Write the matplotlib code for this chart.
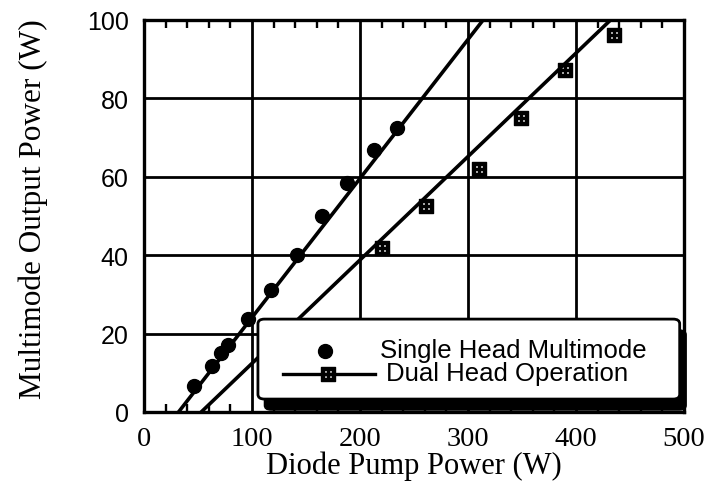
import matplotlib
matplotlib.use('Agg')
import matplotlib.pyplot as plt
from matplotlib.path import Path
from matplotlib.patches import FancyBboxPatch
from matplotlib.ticker import MultipleLocator

# Datos
single_x = [46, 63, 71, 78, 96, 118, 142, 165, 188, 213, 234]
single_y = [6.6, 11.7, 15.1, 17.2, 23.7, 31.1, 40, 50, 58.4, 66.8, 72.4]
dual_x = [220, 261, 310, 349, 390, 435]
dual_y = [41.8, 52.6, 62, 75, 87.2, 96.2]

# Rectas de ajuste (x en y=0 y en y=100)
single_fit_x = [32, 314]
single_fit_y = [0, 100]
dual_fit_x = [53, 432]
dual_fit_y = [0, 100]

x_ticks = [0, 100, 200, 300, 400, 500]
y_ticks = [0, 20, 40, 60, 80, 100]
x_label = 'Diode Pump Power (W)'
y_label = 'Multimode Output Power (W)'
label_single = 'Single Head Multimode'
label_dual = 'Dual Head Operation'

SERIF = 'Liberation Serif'
SANS = 'Liberation Sans'

# marcador cuadrado con cuatro huecos
outer = [(-1, -1), (1, -1), (1, 1), (-1, 1), (-1, -1)]
verts = list(outer)
codes = [Path.MOVETO, Path.LINETO, Path.LINETO, Path.LINETO, Path.CLOSEPOLY]
h = 0.2
for cx in (-0.42, 0.42):
    for cy in (-0.42, 0.42):
        verts += [(cx - h, cy - h), (cx - h, cy + h), (cx + h, cy + h),
                  (cx + h, cy - h), (cx - h, cy - h)]
        codes += [Path.MOVETO, Path.LINETO, Path.LINETO, Path.LINETO, Path.CLOSEPOLY]
square_marker = Path(verts, codes)

fig = plt.figure(figsize=(7.11, 4.89), dpi=100)
ax = fig.add_axes([144 / 711, (489 - 413) / 489, 540 / 711, 392 / 489])

ax.set_xlim(0, 500)
ax.set_ylim(0, 100)
ax.set_xticks(x_ticks)
ax.set_yticks(y_ticks)
ax.xaxis.set_minor_locator(MultipleLocator(20))

ax.grid(True, which='major', color='black', linewidth=2.0, zorder=1)
ax.set_axisbelow(True)
for s in ax.spines.values():
    s.set_linewidth(2.4)
    s.set_zorder(10)

ax.tick_params(which='major', length=0, pad=11)
ax.tick_params(axis='x', which='major', pad=10)
ax.tick_params(axis='x', which='minor', direction='in', top=True, bottom=True,
               length=6, width=1.7)
ax.set_xticklabels([str(t) for t in x_ticks], fontfamily=SERIF, fontsize=20.5)
ax.set_yticklabels([str(t) for t in y_ticks], fontfamily=SANS, fontsize=18)

ax.set_xlabel(x_label, fontfamily=SERIF, fontsize=22, labelpad=0)
ax.set_ylabel(y_label, fontfamily=SERIF, fontsize=22.5)
ax.yaxis.set_label_coords(-0.177, 0.52)

# rectas de ajuste y puntos
ax.plot(single_fit_x, single_fit_y, color='black', linewidth=2.6, zorder=3)
ax.plot(dual_fit_x, dual_fit_y, color='black', linewidth=2.6, zorder=3)
ax.plot(single_x, single_y, 'o', color='black', markersize=10, zorder=4)
ax.plot(dual_x, dual_y, linestyle='none', marker=square_marker, color='black',
        markersize=9.5, zorder=4)

# leyenda dibujada a mano con sombra negra
tr = ax.transAxes
x0, y0, x1, y1 = 0.211, 0.033, 0.992, 0.237
shadow = FancyBboxPatch((x0 + 0.012, y0 - 0.028), x1 - x0, y1 - y0,
                        boxstyle='round,pad=0,rounding_size=0.012',
                        transform=tr, facecolor='black', edgecolor='black',
                        zorder=6, clip_on=False)
box = FancyBboxPatch((x0, y0), x1 - x0, y1 - y0,
                     boxstyle='round,pad=0,rounding_size=0.012',
                     transform=tr, facecolor='white', edgecolor='black',
                     linewidth=2.0, zorder=7, clip_on=False)
ax.add_patch(shadow)
ax.add_patch(box)

ax.plot([0.335], [0.156], 'o', color='black', markersize=10, transform=tr,
        zorder=8, clip_on=False)
ax.plot([0.257, 0.428], [0.097, 0.097], color='black', linewidth=2.4,
        transform=tr, zorder=8, clip_on=False)
ax.plot([0.341], [0.097], linestyle='none', marker=square_marker, color='black',
        markersize=9.5, transform=tr, zorder=9, clip_on=False)
ax.text(0.437, 0.158, label_single, transform=tr, fontfamily=SANS, fontsize=18.5,
        va='center', ha='left', zorder=9)
ax.text(0.448, 0.100, label_dual, transform=tr, fontfamily=SANS, fontsize=18.5,
        va='center', ha='left', zorder=9)

fig.savefig('out.png', dpi=100)
